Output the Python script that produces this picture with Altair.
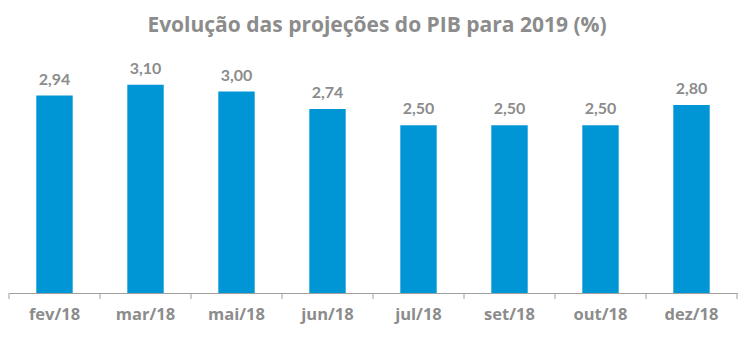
import altair as alt
import pandas as pd

months = ["fev/18", "mar/18", "mai/18", "jun/18", "jul/18", "set/18", "out/18", "dez/18"]
values = [2.94, 3.10, 3.00, 2.74, 2.50, 2.50, 2.50, 2.80]
labels = ["2,94", "3,10", "3,00", "2,74", "2,50", "2,50", "2,50", "2,80"]

df = pd.DataFrame({"mes": months, "valor": values, "rotulo": labels})

GRAY = "#8c8c8c"
BLUE = "#0096d6"
AXIS_GRAY = "#a0a0a0"

xscale = alt.Scale(paddingInner=0.6, paddingOuter=0.3)
x = alt.X("mes:N", sort=months, title=None, scale=xscale)
y = alt.Y("valor:Q", scale=alt.Scale(domain=[0, 3.5]), axis=None)

bars = alt.Chart(df).mark_bar(color=BLUE).encode(x=x, y=y)
text = alt.Chart(df).mark_text(baseline="bottom", dy=-8, font="Lato", fontSize=16,
                               fontWeight="bold", color=GRAY).encode(
    x=alt.X("mes:N", sort=months, scale=xscale, title=None), y="valor:Q", text="rotulo:N")
base = bars + text

# tick marks at category boundaries (scale without padding)
tscale = alt.Scale(paddingInner=0, paddingOuter=0)
ticks_left = alt.Chart(df).mark_rule(color=AXIS_GRAY, strokeWidth=1).encode(
    x=alt.X("mes:N", sort=months, bandPosition=0, scale=tscale, axis=None),
    y=alt.value(235), y2=alt.value(241))
ticks_right = alt.Chart(df).transform_filter(alt.datum.mes == months[-1]).mark_rule(
    color=AXIS_GRAY, strokeWidth=1).encode(
    x=alt.X("mes:N", sort=months, bandPosition=1, scale=tscale, axis=None),
    y=alt.value(235), y2=alt.value(241))
ticks = ticks_left + ticks_right

chart = alt.layer(base, ticks).resolve_scale(x="independent").properties(
    width=728, height=235,
    autosize=alt.AutoSizeParams(type="none"),
    padding={"left": 1, "top": 50, "right": 7, "bottom": 56},
    title=alt.TitleParams("Evolução das projeções do PIB para 2019 (%)", font="Open Sans",
                          fontSize=21, fontWeight="bold", color=GRAY, offset=22,
                          anchor="middle", dx=4),
).configure_view(stroke=None).configure_axisX(
    labelAngle=0, labelColor=GRAY, labelFont="Open Sans", labelFontSize=16.5,
    labelFontWeight="bold", labelPadding=13, ticks=False,
    domainColor=AXIS_GRAY, domainWidth=1, grid=False)

chart.save("out.html", embed_options={"renderer": "svg", "actions": False})
